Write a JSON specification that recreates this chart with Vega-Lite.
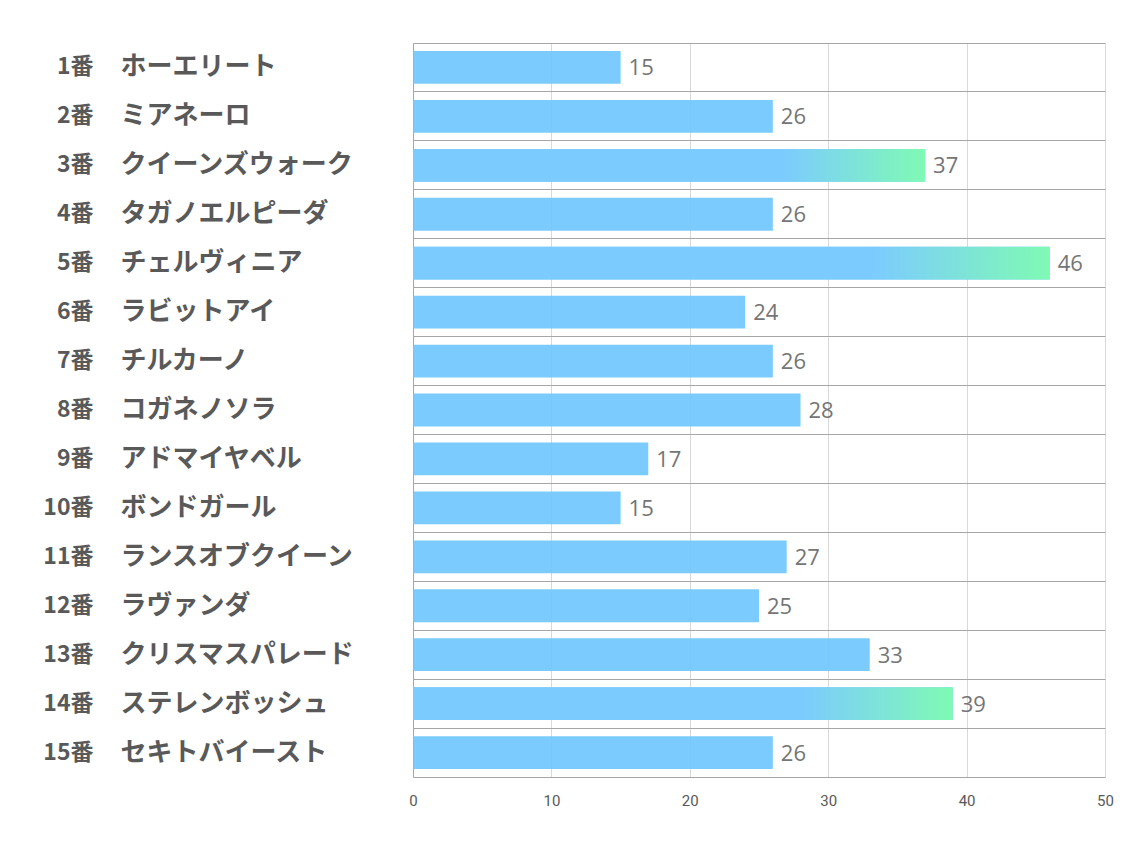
{
  "$schema": "https://vega.github.io/schema/vega-lite/v6.json",
  "autosize": {"type": "none"},
  "padding": {"left": 413, "top": 43, "right": 29, "bottom": 73},
  "width": 692,
  "height": 734,
  "background": "white",
  "config": {"view": {"stroke": null}},
  "data": {
    "values": [
      {"order": 1, "label": "1番　ホーエリート", "value": 15},
      {"order": 2, "label": "2番　ミアネーロ", "value": 26},
      {"order": 3, "label": "3番　クイーンズウォーク", "value": 37},
      {"order": 4, "label": "4番　タガノエルピーダ", "value": 26},
      {"order": 5, "label": "5番　チェルヴィニア", "value": 46},
      {"order": 6, "label": "6番　ラビットアイ", "value": 24},
      {"order": 7, "label": "7番　チルカーノ", "value": 26},
      {"order": 8, "label": "8番　コガネノソラ", "value": 28},
      {"order": 9, "label": "9番　アドマイヤベル", "value": 17},
      {"order": 10, "label": "10番　ボンドガール", "value": 15},
      {"order": 11, "label": "11番　ランスオブクイーン", "value": 27},
      {"order": 12, "label": "12番　ラヴァンダ", "value": 25},
      {"order": 13, "label": "13番　クリスマスパレード", "value": 33},
      {"order": 14, "label": "14番　ステレンボッシュ", "value": 39},
      {"order": 15, "label": "15番　セキトバイースト", "value": 26}
    ]
  },
  "resolve": {"axis": {"y": "independent"}},
  "layer": [
    {
      "mark": {"type": "bar", "fill": "#6dc5ff", "fillOpacity": 0.9, "height": {"band": 0.67}},
      "encoding": {
        "y": {
          "field": "label", "type": "nominal",
          "sort": {"field": "order", "op": "min"},
          "scale": {"paddingInner": 0, "paddingOuter": 0},
          "axis": {
            "orient": "left", "title": null, "labels": false, "ticks": false, "tickSize": 0,
            "grid": true, "bandPosition": 0, "gridColor": "#a6a6a6", "gridWidth": 1,
            "domain": true, "domainColor": "#a6a6a6", "domainWidth": 1
          }
        },
        "x": {
          "field": "value", "type": "quantitative",
          "scale": {"domain": [0, 50], "nice": false},
          "axis": {
            "title": null, "values": [0, 10, 20, 30, 40, 50], "ticks": false,
            "grid": true, "gridColor": "#d9d9d9", "gridWidth": 1,
            "domain": true, "domainColor": "#a6a6a6", "domainWidth": 1.2,
            "labelFont": "Liberation Sans Narrow, Roboto", "labelFontSize": 15, "labelColor": "#595959",
            "labelPadding": 16, "labelFlush": false
          }
        }
      }
    },
    {
      "transform": [{"filter": "datum.value >= 37"}],
      "mark": {
        "type": "bar", "height": {"band": 0.67},
        "fill": {
          "gradient": "linear", "x1": 0, "x2": 1, "y1": 0, "y2": 0,
          "stops": [
            {"offset": 0, "color": "#7ccbff"},
            {"offset": 0.72, "color": "#7ccbff"},
            {"offset": 1, "color": "#7ffab4"}
          ]
        }
      },
      "encoding": {
        "y": {
          "field": "label", "type": "nominal",
          "sort": {"field": "order", "op": "min"},
          "axis": {
            "orient": "left", "title": null, "ticks": false, "tickSize": 0, "grid": false, "domain": false,
            "labelExpr": "split(datum.value, '　')[1]",
            "labelAlign": "left", "labelPadding": 293, "labelBaseline": "middle",
            "labelFont": "Noto Sans CJK JP", "labelFontWeight": "bold", "labelFontSize": 26,
            "labelColor": "#595959", "labelLimit": 400
          }
        },
        "x": {"field": "value", "type": "quantitative"}
      }
    },
    {
      "mark": {"type": "text", "align": "left", "baseline": "middle", "dx": 8, "dy": 1,
        "font": "Open Sans", "fontSize": 22, "color": "#757575"},
      "encoding": {
        "y": {
          "field": "label", "type": "nominal",
          "sort": {"field": "order", "op": "min"},
          "axis": {
            "orient": "left", "title": null, "ticks": false, "tickSize": 0, "grid": false, "domain": false,
            "labelExpr": "split(datum.value, '　')[0]",
            "labelAlign": "right", "labelPadding": 320, "labelBaseline": "middle",
            "labelFont": "Noto Sans CJK JP", "labelFontWeight": "bold", "labelFontSize": 23,
            "labelColor": "#595959", "labelLimit": 200
          }
        },
        "x": {"field": "value", "type": "quantitative"},
        "text": {"field": "value", "type": "quantitative"}
      }
    }
  ]
}
